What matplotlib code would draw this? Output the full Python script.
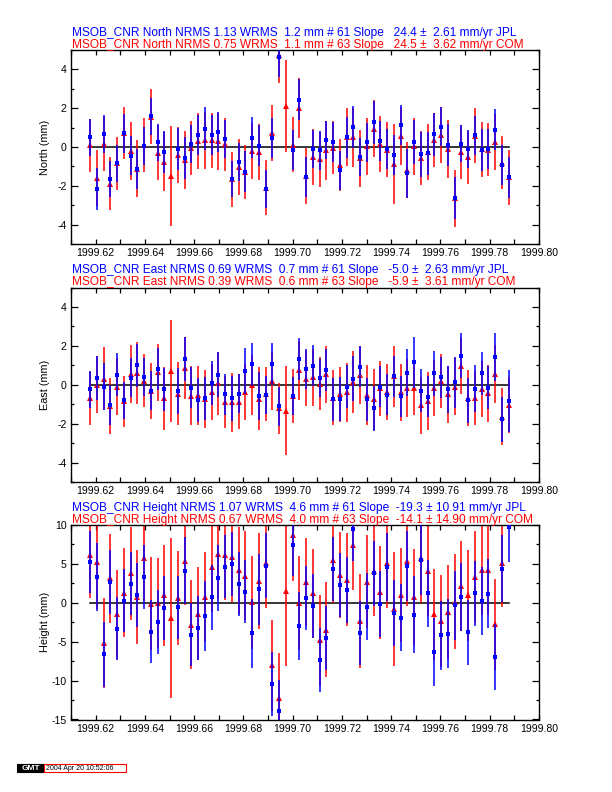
import numpy as np
import matplotlib
matplotlib.use("Agg")
import matplotlib.pyplot as plt
from matplotlib.ticker import MultipleLocator, FormatStrFormatter
from matplotlib.patches import Rectangle

plt.rcParams['font.family'] = ['Liberation Sans', 'DejaVu Sans']

# ---- data ----
epoch = [1999.61781, 1999.62055, 1999.62329, 1999.62603, 1999.62877, 1999.63151, 1999.63425,
         1999.63699, 1999.63973, 1999.64247, 1999.64521, 1999.64795, 1999.65068, 1999.65342,
         1999.65616, 1999.65890, 1999.66164, 1999.66438, 1999.66712, 1999.66986, 1999.67260,
         1999.67534, 1999.67808, 1999.68082, 1999.68356, 1999.68630, 1999.68904, 1999.69178,
         1999.69452, 1999.69726, 1999.70000, 1999.70274, 1999.70548, 1999.70822, 1999.71096,
         1999.71370, 1999.71644, 1999.71918, 1999.72192, 1999.72466, 1999.72740, 1999.73014,
         1999.73288, 1999.73562, 1999.73836, 1999.74110, 1999.74384, 1999.74658, 1999.74932,
         1999.75205, 1999.75479, 1999.75753, 1999.76027, 1999.76301, 1999.76575, 1999.76849,
         1999.77123, 1999.77397, 1999.77671, 1999.77945, 1999.78219, 1999.78493, 1999.78767]
nan = np.nan

north_com = [0.08, -1.60, 0.16, -1.90, -0.84, 0.72, -0.20, -1.11, 0.10, 1.57, -0.29, -0.75, -1.49,
             -0.41, -0.66, -0.05, 0.30, 0.34, 0.34, 0.29, 0.14, -1.67, -1.02, -1.29, -0.20, -0.25,
             -2.10, 0.73, 4.75, 2.12, 0.12, 2.00, -1.50, -0.51, -0.64, -0.18, -0.03, -0.93, 0.50,
             0.50, -0.58, 0.03, 0.95, 0.15, -0.14, -0.88, 0.55, -1.18, 0.04, -0.58, -0.24, 0.36,
             0.62, -0.10, -2.65, -0.26, -0.53, 0.58, -0.12, -0.15, 0.28, -0.80, -1.56]
north_com_err = [1.36, 1.45, 1.38, 1.37, 1.37, 1.35, 1.49, 1.45, 1.38, 1.44, 1.40, 1.53, 2.56,
                 1.42, 1.48, 1.38, 1.44, 1.46, 1.43, 1.46, 1.36, 1.41, 1.43, 1.39, 1.45, 1.44,
                 1.42, 1.44, 1.45, 2.39, 1.43, 1.54, 1.45, 1.44, 1.41, 1.50, 1.37, 1.33, 1.49,
                 1.52, 1.46, 1.46, 1.47, 1.44, 1.41, 2.07, 1.50, 1.45, 1.46, 1.39, 1.45, 1.39,
                 1.44, 1.48, 1.45, 1.41, 1.38, 1.43, 1.41, 1.37, 1.44, 1.38, 1.42]
north_jpl = [0.50, -2.17, 0.66, -1.64, -0.85, 0.70, -0.44, -1.12, 0.05, 1.58, 0.24, -0.26, nan,
             -0.08, -0.58, 0.15, 0.62, 0.94, 0.62, 0.76, 0.42, -1.66, -0.76, -1.28, 0.48, 0.07,
             -2.18, 0.46, 4.62, nan, -0.16, 2.44, -1.55, -0.11, -0.16, 0.35, 0.25, -1.21, 0.50,
             1.02, -0.52, 0.25, 1.27, 0.31, -0.11, -0.39, 1.15, -1.36, 0.25, -0.38, -0.33, 0.65,
             1.05, 0.09, -2.65, 0.17, -0.10, 0.60, -0.17, -0.10, 0.88, -0.91, -1.56]
north_jpl_err = [0.96, 1.08, 0.97, 0.92, 0.97, 1.00, 1.02, 1.03, 0.97, 0.94, 0.97, 1.07, nan,
                 1.08, 1.09, 0.97, 1.04, 1.10, 1.05, 1.02, 0.99, 0.92, 0.99, 1.05, 1.05, 1.07,
                 0.98, 1.03, 1.00, nan, 1.04, 1.04, 1.03, 0.99, 1.00, 0.99, 1.02, 1.00, 1.06,
                 1.09, 0.98, 1.01, 1.11, 1.03, 1.02, 1.03, 1.04, 1.27, 1.13, 1.15, 1.09, 1.09,
                 1.02, 1.09, 1.08, 0.96, 1.00, 1.01, 1.09, 1.03, 1.06, 1.03, 1.06]

east_com = [-0.70, 0.00, 0.32, -1.07, -0.09, -0.84, 0.54, 0.61, 0.21, -0.31, 0.64, -0.70, 0.71,
            -0.45, 0.87, -0.56, -0.55, -0.73, -0.36, 0.08, -0.88, -0.90, -0.87, -0.39, 0.00, -0.73,
            -0.47, 0.18, -1.22, -1.33, -0.58, 0.75, 0.30, 0.39, 0.05, 0.53, -0.67, -0.50, -0.38,
            0.12, 0.50, -0.55, -0.75, -0.19, -0.39, 0.44, -0.39, -0.17, -0.17, -1.06, -0.85, -0.17,
            0.19, -0.50, -0.09, 0.97, -0.68, -0.68, -0.21, -0.44, 0.56, -1.64, -1.03]
east_com_err = [1.35, 1.47, 1.62, 1.44, 1.45, 1.31, 1.49, 1.59, 1.35, 1.43, 1.48, 1.61, 2.64,
                1.60, 1.58, 1.50, 1.50, 1.50, 1.45, 1.62, 1.35, 1.51, 1.40, 1.44, 1.54, 1.62,
                1.38, 1.48, 1.30, 2.30, 1.40, 1.51, 1.41, 1.46, 1.37, 1.48, 1.42, 1.41, 1.51,
                1.59, 1.48, 1.54, 1.57, 1.43, 1.44, 1.56, 1.45, 1.50, 1.40, 1.45, 1.50, 1.45,
                1.40, 1.45, 1.45, 1.45, 1.45, 1.38, 1.45, 1.45, 1.50, 1.45, 1.45]
east_jpl = [-0.23, 0.34, -0.09, -1.03, 0.52, -0.80, 0.37, 1.00, 0.41, -0.30, 0.82, -0.24, nan,
            -0.31, 1.34, -0.15, -0.76, -0.70, 0.09, 0.51, -0.50, -0.70, -0.47, 0.70, 1.05, -0.57,
            -0.51, 1.08, -1.11, nan, -0.59, 1.34, 0.82, 0.97, 0.34, 0.77, -0.75, -0.75, -0.09,
            0.31, 0.92, -0.75, -1.21, -0.10, -0.51, 0.44, -0.60, 0.62, 1.15, -0.31, -0.62, 0.58,
            0.38, -0.24, 0.12, 1.49, -0.80, -0.21, 0.58, -0.15, 1.42, -1.78, -0.82]
east_jpl_err = [0.94, 1.13, 1.22, 1.04, 1.10, 0.96, 1.02, 1.10, 0.99, 0.99, 1.09, 1.12, nan,
                1.18, 1.13, 1.07, 1.13, 1.12, 1.13, 1.15, 1.03, 1.15, 1.00, 1.18, 1.11, 1.24,
                0.97, 1.07, 0.99, nan, 0.97, 1.08, 1.03, 1.05, 0.99, 1.08, 1.10, 1.13, 1.10,
                1.15, 1.06, 1.12, 1.15, 1.06, 1.06, 1.05, 1.05, 1.20, 1.30, 1.10, 1.05, 1.15,
                1.05, 1.20, 1.30, 1.15, 1.15, 1.20, 1.10, 1.10, 1.25, 1.15, 1.60]

height_com = [6.10, 5.26, -5.15, 3.13, -1.50, 1.30, 3.77, 0.75, 5.77, -0.15, 0.00, 0.97, -1.98,
              0.62, 5.34, -2.80, -1.38, 0.73, 4.57, 6.28, 6.11, 5.85, 4.18, 3.50, 0.05, 2.82,
              5.09, -8.05, -12.26, 1.54, 8.68, -0.02, 2.66, 1.21, -4.84, -3.45, 5.47, 3.61, 2.98,
              7.48, -2.37, 2.69, 4.15, 1.36, 5.13, -0.83, 0.98, 5.43, 0.76, 5.77, 4.06, -1.45,
              -2.38, -1.20, 0.12, 2.17, 0.94, 3.29, 4.23, 4.23, -2.76, 5.13, nan]
height_com_err = [5.5, 6.0, 5.8, 5.7, 5.66, 5.75, 5.96, 6.03, 5.5, 5.98, 5.77, 6.47, 10.3,
                  6.1, 5.6, 5.73, 6.0, 5.81, 5.8, 5.8, 5.8, 5.8, 5.58, 5.77, 5.96, 6.15,
                  5.8, 5.81, 5.8, 9.66, 5.9, 6.07, 5.66, 5.7, 5.83, 6.13, 5.5, 5.5, 6.0,
                  5.8, 6.07, 5.98, 5.8, 5.98, 5.8, 7.35, 6.0, 5.8, 6.13, 5.8, 5.8, 5.85,
                  5.92, 6.07, 6.09, 5.79, 5.8, 5.9, 5.8, 5.8, 5.85, 5.7, nan]
height_jpl = [5.26, 3.31, -6.62, 2.69, -3.33, 0.29, 2.45, 0.98, 3.31, -3.70, -2.48, -0.68, nan,
              -0.56, 4.13, -4.08, -3.25, -1.67, 0.70, 3.20, 4.65, 5.01, 2.42, 1.41, -3.93, 1.72,
              4.79, -10.42, -13.97, nan, 7.44, -2.96, 0.64, -0.42, -7.35, -4.52, 4.35, 2.31, 1.67,
              9.49, -3.93, -0.50, 3.80, -0.18, 4.63, -1.26, -1.89, 4.75, -1.51, 5.50, 1.21, -6.30,
              -4.20, -3.97, -0.34, 0.78, -3.78, 1.24, 0.24, 1.18, -6.96, 4.40, 9.74]
height_jpl_err = [4.0, 4.42, 4.17, 4.15, 4.06, 4.08, 4.08, 4.10, 4.12, 4.04, 4.10, 4.08, nan,
                  4.06, 4.34, 4.10, 4.15, 4.49, 4.19, 4.23, 4.08, 4.12, 4.15, 4.04, 4.40, 4.55,
                  4.20, 4.12, 4.10, nan, 4.00, 4.38, 4.10, 4.06, 4.06, 4.17, 4.12, 4.10, 4.23,
                  4.10, 4.10, 4.30, 4.20, 4.25, 4.38, 4.23, 4.25, 4.50, 4.90, 4.50, 4.34, 4.34,
                  4.49, 4.40, 4.49, 4.38, 4.19, 4.19, 4.36, 4.40, 4.23, 4.32, 4.45]

components = ["North", "East", "Height"]
ylabels = ["North (mm)", "East (mm)", "Height (mm)"]
jpl_titles = ["MSOB_CNR North NRMS 1.13 WRMS  1.2 mm # 61 Slope   24.4 \u00b1  2.61 mm/yr JPL",
              "MSOB_CNR East NRMS 0.69 WRMS  0.7 mm # 61 Slope   -5.0 \u00b1  2.63 mm/yr JPL",
              "MSOB_CNR Height NRMS 1.07 WRMS  4.6 mm # 61 Slope  -19.3 \u00b1 10.91 mm/yr JPL"]
com_titles = ["MSOB_CNR North NRMS 0.75 WRMS  1.1 mm # 63 Slope   24.5 \u00b1  3.62 mm/yr COM",
              "MSOB_CNR East NRMS 0.39 WRMS  0.6 mm # 63 Slope   -5.9 \u00b1  3.61 mm/yr COM",
              "MSOB_CNR Height NRMS 0.67 WRMS  4.0 mm # 63 Slope  -14.1 \u00b1 14.90 mm/yr COM"]
ylims = [(-5, 5), (-5, 5), (-15, 10)]
ymajor = [2, 2, 5]
yminor = [1, 1, 2.5]
xlim = (1999.61, 1999.80)
stamp = "2004 Apr 20 10:52:06"

series = [(north_com, north_com_err, north_jpl, north_jpl_err),
          (east_com, east_com_err, east_jpl, east_jpl_err),
          (height_com, height_com_err, height_jpl, height_jpl_err)]

# ---- figure ----
W, H = 612, 792
fig = plt.figure(figsize=(W / 100, H / 100), dpi=100)

def px(x, y):
    return x / W, 1 - y / H

left_px, right_px = 71, 539
panels_px = [(50, 244), (287.5, 482), (525, 719.5)]

t = np.array(epoch)
for i, (top, bot) in enumerate(panels_px):
    ax = fig.add_axes([left_px / W, 1 - bot / H, (right_px - left_px) / W, (bot - top) / H])
    com, com_e, jpl, jpl_e = [np.array(s, dtype=float) for s in series[i]]
    ax.plot([t[0], t[-1]], [0, 0], color='black', lw=1.1, zorder=1)
    ax.errorbar(t, com, yerr=com_e, fmt='^', color='red', ms=4.2, mew=0,
                ecolor='red', elinewidth=1.1, capsize=1.9, capthick=1.1, zorder=2)
    ax.errorbar(t, jpl, yerr=jpl_e, fmt='s', color='blue', ms=2.6, mew=0,
                ecolor='blue', elinewidth=1.1, capsize=1.7, capthick=1.1, zorder=3)
    ax.set_xlim(*xlim)
    ax.set_ylim(*ylims[i])
    ax.xaxis.set_major_locator(MultipleLocator(0.02))
    ax.xaxis.set_minor_locator(MultipleLocator(0.01))
    ax.xaxis.set_major_formatter(FormatStrFormatter('%.2f'))
    ax.yaxis.set_major_locator(MultipleLocator(ymajor[i]))
    ax.yaxis.set_minor_locator(MultipleLocator(yminor[i]))
    ax.yaxis.set_major_formatter(FormatStrFormatter('%g'))
    ax.tick_params(axis='both', which='both', direction='in', top=True, right=True,
                   labelsize=7.6, width=0.9, pad=3)
    ax.tick_params(axis='x', which='both', length=3.6)
    ax.tick_params(axis='y', which='major', length=5)
    ax.tick_params(axis='y', which='minor', length=2.4)
    for sp in ax.spines.values():
        sp.set_linewidth(1.0)
    ax.set_ylabel(ylabels[i], fontsize=7.8)
    ax.yaxis.set_label_coords(-0.045, 0.5)
    fig.text(*px(72, top - 14), jpl_titles[i], color='blue', fontsize=8.6, va='baseline')
    fig.text(*px(72, top - 2), com_titles[i], color='red', fontsize=8.6, va='baseline')

# GMT time stamp
fig.add_artist(Rectangle(px(17, 772), 27 / W, 8 / H, transform=fig.transFigure,
                         facecolor='black', edgecolor='black', lw=0.8))
fig.add_artist(Rectangle(px(44, 772), 82 / W, 8 / H, transform=fig.transFigure,
                         facecolor='white', edgecolor='red', lw=0.8))
fig.text(*px(30.5, 768), "GMT", color='white', fontsize=6, fontweight='bold',
         ha='center', va='center')
fig.text(*px(46, 768.3), stamp, color='black', fontsize=5, ha='left', va='center')

fig.savefig("out.png", dpi=100)
